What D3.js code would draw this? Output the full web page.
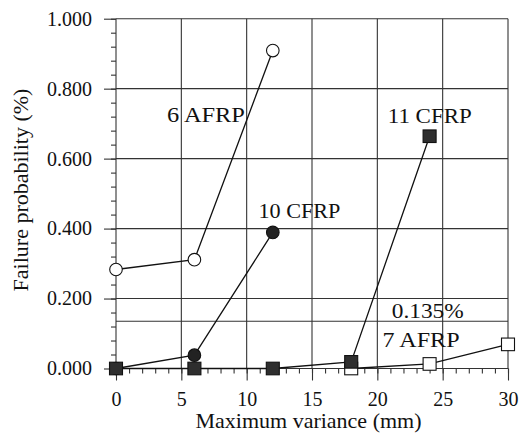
<!DOCTYPE html>
<html>
<head>
<meta charset="utf-8">
<script src="https://cdn.jsdelivr.net/npm/d3@7"></script>
<style>
  body { margin:0; background:#fff; }
  text { font-family: "Liberation Serif", "Times New Roman", serif; fill:#111; }
</style>
</head>
<body>
<svg id="chart" width="522" height="438"></svg>
<script>
// data
const xTicks = [0, 5, 10, 15, 20, 25, 30];
const yTicks = [0, 0.2, 0.4, 0.6, 0.8, 1.0];
const threshold = 0.135;

const afrp6X = [0, 6, 12];
const afrp6Y = [0.283, 0.311, 0.909];

const cfrp10X = [0, 6, 12];
const cfrp10Y = [0, 0.038, 0.389];

const cfrp11X = [0, 6, 12, 18, 24];
const cfrp11Y = [0, 0, 0, 0.019, 0.664];

const afrp7X = [18, 24, 30];
const afrp7Y = [0, 0.013, 0.069];

const labels = [
  { text: '6 AFRP', x: 3.9, y: 0.705, len: 78 },
  { text: '10 CFRP', x: 10.9, y: 0.431, len: 82 },
  { text: '11 CFRP', x: 20.8, y: 0.703, len: 84 },
  { text: '0.135%', x: 21.1, y: 0.144, len: 72 },
  { text: '7 AFRP', x: 20.4, y: 0.061, len: 77 }
];

const svg = d3.select('#chart');
const x = d3.scaleLinear().domain([0, 30]).range([116, 508]);
const y = d3.scaleLinear().domain([0, 1]).range([368.5, 18.7]);

const ink = '#222';

// grid
const grid = svg.append('g').attr('stroke', '#333').attr('stroke-width', 1.1);
grid.selectAll('.vg').data(xTicks).join('line')
  .attr('x1', d => x(d)).attr('x2', d => x(d))
  .attr('y1', y(0)).attr('y2', y(1));
grid.selectAll('.hg').data(yTicks).join('line')
  .attr('x1', x(0)).attr('x2', x(30))
  .attr('y1', d => y(d)).attr('y2', d => y(d));
grid.append('line')
  .attr('x1', x(0)).attr('x2', x(30))
  .attr('y1', y(threshold)).attr('y2', y(threshold));

// minor ticks
const minorX = svg.append('g')
  .attr('transform', `translate(0,${y(0)})`)
  .call(d3.axisBottom(x).tickValues(d3.range(0, 31, 1)).tickSize(5).tickFormat(''));
const minorY = svg.append('g')
  .attr('transform', `translate(${x(0)},0)`)
  .call(d3.axisLeft(y).tickValues(d3.range(0, 1.001, 0.04)).tickSize(5).tickFormat(''));

// major ticks + labels
const xAxis = svg.append('g')
  .attr('transform', `translate(0,${y(0)})`)
  .call(d3.axisBottom(x).tickValues(xTicks).tickSize(12).tickPadding(11));
const yAxis = svg.append('g')
  .attr('transform', `translate(${x(0)},0)`)
  .call(d3.axisLeft(y).tickValues(yTicks).tickSize(12).tickPadding(12).tickFormat(d3.format('.3f')));

[minorX, minorY, xAxis, yAxis].forEach(g => {
  g.select('.domain').remove();
  g.selectAll('line').attr('stroke', '#333').attr('stroke-width', 1.1);
});
[xAxis, yAxis].forEach(g => {
  g.selectAll('text').attr('font-size', 20).attr('fill', '#111')
    .style('font-family', '"Liberation Serif", serif');
});

// series lines
const line = d3.line().x(d => x(d[0])).y(d => y(d[1]));
const series = [
  { xs: afrp6X, ys: afrp6Y, shape: 'circle', fill: '#fff' },
  { xs: afrp7X, ys: afrp7Y, shape: 'square', fill: '#fff' },
  { xs: cfrp10X, ys: cfrp10Y, shape: 'circle', fill: ink },
  { xs: cfrp11X, ys: cfrp11Y, shape: 'square', fill: '#2e2e2e' }
];

series.forEach(s => {
  const pts = s.xs.map((v, i) => [v, s.ys[i]]);
  svg.append('path')
    .datum(pts)
    .attr('d', line)
    .attr('fill', 'none')
    .attr('stroke', '#111')
    .attr('stroke-width', 1.3);
});

series.forEach(s => {
  const pts = s.xs.map((v, i) => [v, s.ys[i]]);
  if (s.shape === 'circle') {
    svg.selectAll(null).data(pts).join('circle')
      .attr('cx', d => x(d[0])).attr('cy', d => y(d[1]))
      .attr('r', 6.3)
      .attr('fill', s.fill)
      .attr('stroke', '#111').attr('stroke-width', 1.1);
  } else {
    svg.selectAll(null).data(pts).join('rect')
      .attr('x', d => x(d[0]) - 6.5).attr('y', d => y(d[1]) - 6.3)
      .attr('width', 13).attr('height', 12.6)
      .attr('fill', s.fill)
      .attr('stroke', '#111').attr('stroke-width', 1.1);
  }
});

// in-plot labels
svg.selectAll('.lbl').data(labels).join('text')
  .attr('x', d => x(d.x)).attr('y', d => y(d.y))
  .attr('font-size', 22)
  .attr('textLength', d => d.len)
  .attr('lengthAdjust', 'spacingAndGlyphs')
  .text(d => d.text);

// axis titles
svg.append('text')
  .attr('x', 308.5).attr('y', 428)
  .attr('text-anchor', 'middle')
  .attr('font-size', 22)
  .text('Maximum variance (mm)');

svg.append('text')
  .attr('transform', 'translate(28,190) rotate(-90)')
  .attr('text-anchor', 'middle')
  .attr('font-size', 22)
  .text('Failure probability (%)');
</script>
</body>
</html>
